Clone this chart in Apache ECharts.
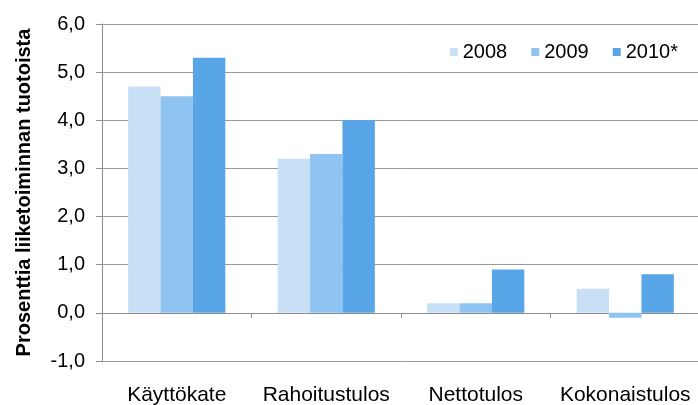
<!DOCTYPE html>
<html><head><meta charset="utf-8">
<script src="https://cdn.jsdelivr.net/npm/echarts@6/dist/echarts.min.js"></script>
<style>html,body{margin:0;padding:0;background:#fff}#c{width:698px;height:405px}</style>
</head><body><div id="c"></div>
<script>
const categories = ['Käyttökate', 'Rahoitustulos', 'Nettotulos', 'Kokonaistulos'];
const s2008 = [4.7, 3.2, 0.2, 0.5];
const s2009 = [4.5, 3.3, 0.2, -0.1];
const s2010 = [5.3, 4.0, 0.9, 0.8];
const seriesNames = ['2008', '2009', '2010*'];
const colors = ['#C8DFF6', '#8FC3F1', '#58A6E8'];
const font = 'Liberation Sans, Arial, sans-serif';

const chart = echarts.init(document.getElementById('c'), null, {renderer: 'canvas'});
const mk = (name, data, i) => ({
  name, type: 'bar', data, xAxisIndex: 0,
  barGap: '0%', barCategoryGap: '35%',
  itemStyle: {color: colors[i]}
});
chart.setOption({
  animation: false,
  textStyle: {fontFamily: font},
  grid: {left: 102, right: -2, top: 24, bottom: 44, containLabel: false, outerBoundsMode: 'none'},
  legend: {
    right: 15, top: 37, itemWidth: 8, itemHeight: 8, itemGap: 24,
    icon: 'rect',
    textStyle: {fontFamily: font, fontSize: 20, color: '#000', padding: [0,0,0,0]},
    data: seriesNames
  },
  xAxis: [{
    type: 'category', data: categories, position: 'bottom',
    axisLine: {show: true, onZero: true, lineStyle: {color: '#8c8c8c', width: 1}},
    axisTick: {show: true, length: 5, lineStyle: {color: '#8c8c8c'}},
    axisLabel: {show: false}
  }, {
    type: 'category', data: categories, position: 'bottom',
    axisLine: {show: false, onZero: false}, axisTick: {show: false},
    axisLabel: {fontFamily: font, fontSize: 21, color: '#000', margin: 24, interval: 0, hideOverlap: false}
  }],
  yAxis: {
    type: 'value', min: -1, max: 6, interval: 1,
    name: 'Prosenttia liiketoiminnan tuotoista',
    nameLocation: 'middle', nameGap: 68, nameRotate: 90,
    nameTextStyle: {fontFamily: font, fontSize: 20, fontWeight: 'bold', color: '#000'},
    axisLine: {show: true, lineStyle: {color: '#8c8c8c'}},
    axisTick: {show: true, length: 6, lineStyle: {color: '#8c8c8c'}},
    axisLabel: {fontFamily: font, fontSize: 20, color: '#000', margin: 17,
      formatter: v => v.toFixed(1).replace('.', ',')},
    splitLine: {show: true, lineStyle: {color: '#9a9a9a', width: 1}}
  },
  series: [mk(seriesNames[0], s2008, 0), mk(seriesNames[1], s2009, 1), mk(seriesNames[2], s2010, 2)]
});
</script></body></html>
